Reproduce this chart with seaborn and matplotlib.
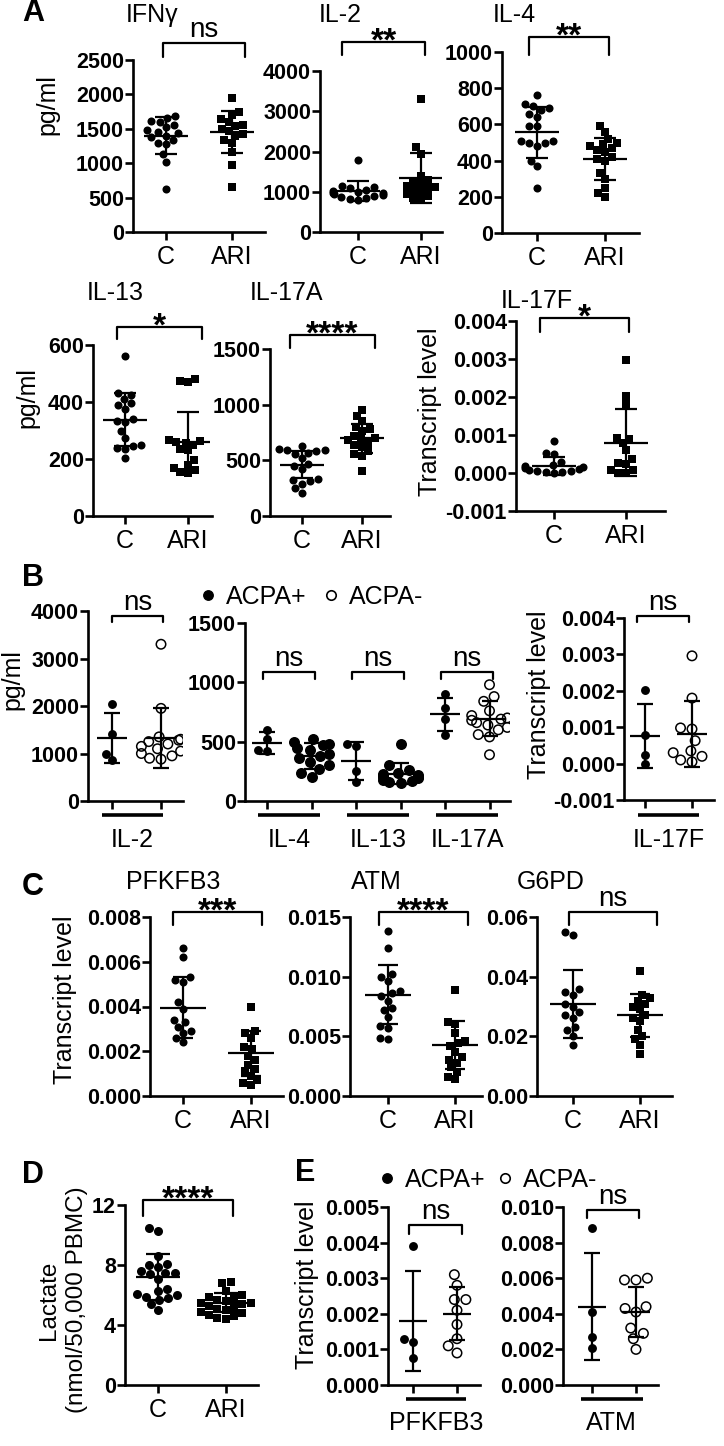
import matplotlib.pyplot as plt
import matplotlib.ticker as mticker
from matplotlib.lines import Line2D
from matplotlib.transforms import blended_transform_factory
import seaborn as sns

# ---------------- values ----------------
# A: cytokines, controls (C) vs ARI, mean +/- SD
groups = ["C", "ARI"]
ifng_c = [1690, 1650, 1610, 1600, 1560, 1520, 1480, 1450, 1440, 1400, 1380, 1340, 1300, 1280, 1130, 1020, 620]
ifng_ari = [1950, 1740, 1700, 1640, 1600, 1560, 1540, 1500, 1470, 1420, 1400, 1330, 1300, 1170, 980, 650]
ifng_mean, ifng_sd = [1400, 1447], [265, 305]

il2_c = [1800, 1150, 1120, 1100, 1050, 1020, 1000, 980, 960, 950, 920, 900, 880, 850, 830, 800]
il2_ari = [3300, 2100, 1950, 1400, 1300, 1250, 1200, 1150, 1120, 1100, 1050, 1000, 950, 900, 850, 800]
il2_mean, il2_sd = [1015, 1340], [240, 620]

il4_c = [760, 710, 700, 690, 680, 660, 640, 590, 590, 510, 510, 500, 500, 480, 400, 370, 250]
il4_ari = [590, 560, 520, 500, 490, 480, 470, 460, 450, 420, 410, 400, 330, 300, 250, 220, 200]
il4_mean, il4_sd = [556, 410], [140, 115]

il13_c = [560, 430, 425, 410, 395, 390, 375, 340, 335, 330, 300, 275, 250, 245, 240, 235, 205]
il13_ari = [480, 475, 470, 265, 262, 258, 255, 250, 235, 230, 195, 180, 170, 160, 155, 150]
il13_mean, il13_sd = [338, 260], [92, 105]

il17a_c = [630, 600, 590, 590, 580, 570, 560, 520, 470, 450, 420, 330, 320, 310, 290, 250, 210]
il17a_ari = [950, 900, 850, 800, 780, 760, 720, 700, 690, 680, 660, 640, 620, 580, 560, 540, 400]
il17a_mean, il17a_sd = [460, 700], [120, 130]

il17f_c = [0.00083, 0.00052, 0.0005, 0.0003, 0.00022, 0.00018, 0.00015, 0.00012,
           0.0001, 0.00008, 0.00006, 0.00005, 0.00003, 0.00002, 0.00001]
il17f_ari = [0.00297, 0.00203, 0.00182, 0.00092, 0.0009, 0.00079, 0.00061, 0.00037,
             0.00027, 0.00025, 0.00009, 0.00008, 0.00001, 0.0]
il17f_mean, il17f_sd = [0.00018, 0.0008], [0.00024, 0.00088]

# B: ARI patients split by ACPA status
b_il2_pos = [2050, 1420, 1000, 860]
b_il2_neg = [3300, 1950, 1350, 1300, 1280, 1250, 1200, 1150, 1100, 1050, 1000, 950, 900, 880]
b_il2_mean, b_il2_sd = [1330, 1330], [530, 630]
b_il4_pos = [600, 520, 430, 420]
b_il4_neg = [520, 500, 480, 470, 450, 430, 400, 380, 360, 330, 300, 270, 240, 200]
b_il13_pos = [480, 460, 250, 160]
b_il13_neg = [480, 300, 260, 240, 230, 220, 210, 200, 200, 190, 180, 170, 160, 150]
b_il17a_pos = [900, 780, 690, 560]
b_il17a_neg = [980, 880, 840, 760, 720, 700, 690, 680, 660, 640, 620, 600, 560, 540, 390]
b_mid_mean = [490, 380, 340, 230, 732, 695]
b_mid_sd = [90, 110, 160, 90, 140, 150]
b_il17f_pos = [0.00203, 0.00078, 0.00025, 0.0]
b_il17f_neg = [0.00296, 0.0018, 0.00098, 0.00095, 0.00063, 0.00035, 0.0003, 0.0002, 0.0001, 0.00005]
b_il17f_mean, b_il17f_sd = [0.00077, 0.00082], [0.00088, 0.0009]

# C: transcripts
pfkfb3_c = [0.0066, 0.0062, 0.0053, 0.0052, 0.0051, 0.0042, 0.0039, 0.0034, 0.0033, 0.0031, 0.0029, 0.0028, 0.0026, 0.0024]
pfkfb3_ari = [0.0040, 0.0029, 0.0028, 0.0026, 0.0022, 0.0021, 0.0018, 0.0016, 0.0014, 0.0012, 0.0011, 0.0009, 0.0007, 0.0006, 0.0005]
pfkfb3_mean, pfkfb3_sd = [0.00395, 0.0019], [0.00135, 0.001]
atm_c = [0.0138, 0.0124, 0.0102, 0.0100, 0.0096, 0.0088, 0.0086, 0.0084, 0.0080, 0.0074, 0.0072, 0.0066, 0.0059, 0.0057, 0.0049, 0.0048]
atm_ari = [0.0089, 0.0062, 0.0060, 0.0053, 0.0046, 0.0044, 0.0042, 0.0037, 0.0033, 0.0030, 0.0028, 0.0024, 0.0020, 0.0016, 0.0014]
atm_mean, atm_sd = [0.0085, 0.0043], [0.0025, 0.002]
g6pd_c = [0.055, 0.054, 0.036, 0.035, 0.034, 0.031, 0.030, 0.028, 0.027, 0.026, 0.023, 0.022, 0.020, 0.017]
g6pd_ari = [0.042, 0.034, 0.033, 0.032, 0.031, 0.030, 0.029, 0.027, 0.026, 0.025, 0.022, 0.020, 0.019, 0.017, 0.014]
g6pd_mean, g6pd_sd = [0.0308, 0.027], [0.0115, 0.0072]

# D: lactate
lact_c = [10.5, 10.3, 8.6, 8.1, 8.0, 7.9, 7.6, 7.5, 7.5, 7.4, 7.1, 6.4, 6.3, 6.1, 6.0, 5.9, 5.8, 5.7, 5.4, 5.0]
lact_ari = [6.9, 6.8, 6.3, 6.0, 5.9, 5.8, 5.7, 5.6, 5.5, 5.5, 5.4, 5.3, 5.2, 5.1, 5.0, 4.9, 4.8, 4.7, 4.6, 4.5, 4.4]
lact_mean, lact_sd = [7.2, 5.5], [1.55, 0.65]

# E: transcripts by ACPA status
e_pfkfb3_pos = [0.0039, 0.0013, 0.0012, 0.00075]
e_pfkfb3_neg = [0.0031, 0.0028, 0.0024, 0.0024, 0.0021, 0.0017, 0.0013, 0.0011, 0.0009]
e_pfkfb3_mean, e_pfkfb3_sd = [0.0018, 0.002], [0.0014, 0.00074]
e_atm_pos = [0.0088, 0.0041, 0.0027, 0.0021]
e_atm_neg = [0.0060, 0.0059, 0.0059, 0.0044, 0.0043, 0.0041, 0.0032, 0.0029, 0.0026, 0.0020]
e_atm_mean, e_atm_sd = [0.0044, 0.0041], [0.003, 0.0014]

# ---------------- setup ----------------
W, H = 724, 1446
sns.set_theme(style="ticks")
plt.rcParams["font.family"] = ["Liberation Sans", "DejaVu Sans"]
plt.rcParams["axes.unicode_minus"] = False
plt.rcParams.update({"axes.edgecolor": "black", "xtick.color": "black", "ytick.color": "black",
                     "text.color": "black", "axes.labelcolor": "black"})

fig = plt.figure(figsize=(W / 100, H / 100), dpi=100)


def fy(py):
    return 1 - py / H


def add_panel(left, right, top, bottom, t0, t1, n=2):
    # axes placed in pixel coords; t0/t1 = pixel x of first/last category
    ax = fig.add_axes([left / W, 1 - bottom / H, (right - left) / W, (bottom - top) / H])
    step = (t1 - t0) / (n - 1)
    return ax, step, ((left - t0) / step, (right - t0) / step)


def plot_groups(ax, step, order, values, means, sds, styles, half_mean=22, half_cap=11):
    for pos, (cat, vals, m, s, (mk, filled, size)) in enumerate(zip(order, values, means, sds, styles)):
        sns.swarmplot(x=[cat] * len(vals), y=vals, order=order, ax=ax, color="black",
                      marker=mk, size=size, linewidth=0 if filled else 1.1,
                      edgecolor="black", legend=False, zorder=3, warn_thresh=1)
        if not filled:
            ax.collections[-1].set_facecolor("none")
        ax.errorbar([pos], [m], yerr=[s], fmt="none", ecolor="black", elinewidth=1.6,
                    capsize=half_cap * 0.72, capthick=1.6, zorder=4)
        ax.hlines(m, pos - half_mean / step, pos + half_mean / step, color="black", lw=1.6, zorder=4)


def style(ax, xlim, yticks, fmt, xlabels):
    ax.set_xlim(*xlim)
    ax.set_ylim(yticks[0], yticks[-1])
    ax.set_yticks(yticks, labels=[fmt % v for v in yticks])
    ax.set_xticks(range(len(xlabels)), labels=xlabels, fontsize=18)
    plt.setp(ax.get_yticklabels(), fontweight="bold", fontsize=15.5)
    ax.set_xlabel("")
    ax.set_ylabel("")
    sns.despine(ax=ax)
    for side in ["left", "bottom"]:
        ax.spines[side].set_linewidth(1.9)
    ax.tick_params(width=1.9, length=5.5)
    ax.tick_params(axis="y", pad=1)
    ax.tick_params(axis="x", pad=4)


def bracket(ax, x0, x1, top, leg, label):
    tr = blended_transform_factory(ax.transData, fig.transFigure)
    ax.plot([x0, x0, x1, x1], [fy(leg), fy(top), fy(top), fy(leg)], color="black", lw=1.6,
            transform=tr, clip_on=False)
    if label == "ns":
        ax.text((x0 + x1) / 2, fy(top - 6), label, transform=tr, ha="center", va="baseline", fontsize=20)
    else:
        ax.text((x0 + x1) / 2, fy(top + 9), label, transform=tr, ha="center", va="baseline",
                fontsize=24, fontweight="bold")


def underbar(ax, x0, x1, ybar, ylab, label):
    tr = blended_transform_factory(ax.transData, fig.transFigure)
    ax.plot([x0, x1], [fy(ybar)] * 2, color="black", lw=2.6, transform=tr, clip_on=False,
            solid_capstyle="butt")
    ax.text((x0 + x1) / 2, fy(ylab), label, transform=tr, ha="center", va="center", fontsize=18)


def ftext(x, y, s, size=18, rot=0, weight="normal", ha="center"):
    fig.text(x / W, fy(y), s, fontsize=size, rotation=rot, fontweight=weight, ha=ha, va="center",
             linespacing=1.3, multialignment="center")


dot = ("o", True, 5.8)
sq = ("s", True, 5.4)
pos_st = ("o", True, 6.4)
neg_st = ("o", False, 6.8)

# ---------------- panel A ----------------
ax, st, xl = add_panel(133, 265, 60, 232, 166, 232)
plot_groups(ax, st, groups, [ifng_c, ifng_ari], ifng_mean, ifng_sd, [dot, sq])
style(ax, xl, [0, 500, 1000, 1500, 2000, 2500], "%d", groups)
bracket(ax, -0.05, 1.2, 43, 57, "ns")

ax, st, xl = add_panel(320, 442, 71, 232, 358, 421)
plot_groups(ax, st, groups, [il2_c, il2_ari], il2_mean, il2_sd, [dot, sq])
style(ax, xl, [0, 1000, 2000, 3000, 4000], "%d", groups)
bracket(ax, -0.25, 1.06, 42, 55, "**")

ax, st, xl = add_panel(502, 639, 52, 233, 537, 605)
plot_groups(ax, st, groups, [il4_c, il4_ari], il4_mean, il4_sd, [dot, sq])
style(ax, xl, [0, 200, 400, 600, 800, 1000], "%d", groups)
bracket(ax, -0.12, 1.06, 37, 55, "**")

ax, st, xl = add_panel(93, 212, 345, 516, 125, 188)
plot_groups(ax, st, groups, [il13_c, il13_ari], il13_mean, il13_sd, [dot, sq])
style(ax, xl, [0, 200, 400, 600], "%d", groups)
bracket(ax, -0.13, 1.22, 327, 339, "*")

ax, st, xl = add_panel(270, 390, 349, 516, 302, 362)
plot_groups(ax, st, groups, [il17a_c, il17a_ari], il17a_mean, il17a_sd, [dot, sq])
style(ax, xl, [0, 500, 1000, 1500], "%d", groups)
bracket(ax, -0.2, 1.22, 335, 348, "****")

ax, st, xl = add_panel(516, 665, 321, 511, 554, 626)
plot_groups(ax, st, groups, [il17f_c, il17f_ari], il17f_mean, il17f_sd, [dot, sq])
style(ax, xl, [-0.001, 0.0, 0.001, 0.002, 0.003, 0.004], "%.3f", groups)
bracket(ax, -0.19, 1.04, 318, 332, "*")

ftext(33, 13, "A", size=22, weight="bold")
ftext(152, 15, "IFNγ")
ftext(340, 15, "IL-2")
ftext(514, 15, "IL-4")
ftext(115, 293, "IL-13")
ftext(286, 293, "IL-17A")
ftext(537, 301, "IL-17F")
ftext(47, 105, "pg/ml", rot=90)
ftext(27, 398, "pg/ml", rot=90)
ftext(430, 412, "Transcript level", rot=90)

# ---------------- panel B ----------------
acpa = ["ACPA+", "ACPA-"]
ax, st, xl = add_panel(88, 183, 611, 801, 112, 161)
plot_groups(ax, st, acpa, [b_il2_pos, b_il2_neg], b_il2_mean, b_il2_sd, [pos_st, neg_st], 15, 8)
style(ax, xl, [0, 1000, 2000, 3000, 4000], "%d", ["", ""])
bracket(ax, 0.0, 1.04, 616, 622, "ns")
underbar(ax, -0.2, 1.04, 815, 840, "IL-2")

mid_order = ["IL-4+", "IL-4-", "IL-13+", "IL-13-", "IL-17A+", "IL-17A-"]
ax, st, xl = add_panel(245, 510, 623, 801, 267, 489.5, n=6)
plot_groups(ax, st, mid_order,
            [b_il4_pos, b_il4_neg, b_il13_pos, b_il13_neg, b_il17a_pos, b_il17a_neg],
            b_mid_mean, b_mid_sd, [pos_st, neg_st] * 3, 15, 8)
style(ax, xl, [0, 500, 1000, 1500], "%d", [""] * 6)
for k, name in enumerate(["IL-4", "IL-13", "IL-17A"]):
    bracket(ax, 2 * k - 0.09, 2 * k + 1.08, 672, 679, "ns")
    underbar(ax, 2 * k - 0.2, 2 * k + 1.2, 815, 840, name)

ax, st, xl = add_panel(624, 714, 618, 800, 645, 692)
plot_groups(ax, st, acpa, [b_il17f_pos, b_il17f_neg], b_il17f_mean, b_il17f_sd, [pos_st, neg_st], 15, 8)
style(ax, xl, [-0.001, 0.0, 0.001, 0.002, 0.003, 0.004], "%.3f", ["", ""])
bracket(ax, -0.17, 0.94, 616, 622, "ns")
underbar(ax, -0.15, 1.15, 815, 840, "IL-17F")

h_pos = Line2D([], [], marker="o", ls="none", color="black", markersize=6.8)
h_neg = Line2D([], [], marker="o", ls="none", markerfacecolor="none", markeredgecolor="black",
               markeredgewidth=1.2, markersize=6.8)
fig.legend([h_pos, h_neg], acpa, ncol=2, loc="center left", bbox_to_anchor=(198 / W, fy(597)),
           frameon=False, fontsize=18, handlelength=0.8, handletextpad=0.3, columnspacing=0.6,
           borderpad=0, borderaxespad=0)

ftext(33, 578, "B", size=22, weight="bold")
ftext(12, 680, "pg/ml", rot=90)
ftext(539, 695, "Transcript level", rot=90)

# ---------------- panel C ----------------
ax, st, xl = add_panel(150, 283, 917, 1096, 183, 251)
plot_groups(ax, st, groups, [pfkfb3_c, pfkfb3_ari], pfkfb3_mean, pfkfb3_sd, [dot, sq], 23, 10)
style(ax, xl, [0.0, 0.002, 0.004, 0.006, 0.008], "%.3f", groups)
bracket(ax, -0.15, 1.16, 912, 925, "***")

ax, st, xl = add_panel(350, 482, 917, 1096, 388, 455)
plot_groups(ax, st, groups, [atm_c, atm_ari], atm_mean, atm_sd, [dot, sq], 23, 10)
style(ax, xl, [0.0, 0.005, 0.010, 0.015], "%.3f", groups)
bracket(ax, -0.13, 1.19, 912, 925, "****")

ax, st, xl = add_panel(537, 672, 917, 1096, 573, 640)
plot_groups(ax, st, groups, [g6pd_c, g6pd_ari], g6pd_mean, g6pd_sd, [dot, sq], 23, 10)
style(ax, xl, [0.0, 0.02, 0.04, 0.06], "%.2f", groups)
bracket(ax, -0.06, 1.25, 912, 925, "ns")

ftext(33, 887, "C", size=22, weight="bold")
ftext(173, 882, "PFKFB3")
ftext(376, 882, "ATM")
ftext(551, 882, "G6PD")
ftext(65, 1000, "Transcript level", rot=90)

# ---------------- panel D ----------------
big_dot = ("o", True, 6.5)
big_sq = ("s", True, 6.0)
ax, st, xl = add_panel(125, 258, 1205, 1385, 158, 226)
plot_groups(ax, st, groups, [lact_c, lact_ari], lact_mean, lact_sd, [big_dot, big_sq], 22, 12)
style(ax, xl, [0, 4, 8, 12], "%d", groups)
bracket(ax, -0.22, 1.1, 1200, 1216, "****")

ftext(33, 1175, "D", size=22, weight="bold")
ftext(63, 1300, "Lactate\n(nmol/50,000 PBMC)", size=17.5, rot=90)

# ---------------- panel E ----------------
ax, st, xl = add_panel(388, 480, 1207, 1385, 413, 457)
plot_groups(ax, st, acpa, [e_pfkfb3_pos, e_pfkfb3_neg], e_pfkfb3_mean, e_pfkfb3_sd, [pos_st, neg_st], 14, 8)
style(ax, xl, [0.0, 0.001, 0.002, 0.003, 0.004, 0.005], "%.3f", ["", ""])
bracket(ax, -0.09, 1.11, 1225, 1234, "ns")
underbar(ax, -0.16, 1.2, 1399, 1423, "PFKFB3")

ax, st, xl = add_panel(563, 658, 1207, 1385, 592, 636)
plot_groups(ax, st, acpa, [e_atm_pos, e_atm_neg], e_atm_mean, e_atm_sd, [pos_st, neg_st], 14, 8)
style(ax, xl, [0.0, 0.002, 0.004, 0.006, 0.008, 0.010], "%.3f", ["", ""])
bracket(ax, -0.11, 1.07, 1210, 1218, "ns")
underbar(ax, -0.25, 1.15, 1399, 1423, "ATM")

fig.legend([h_pos, h_neg], acpa, ncol=2, loc="center left", bbox_to_anchor=(377 / W, fy(1180)),
           frameon=False, fontsize=18, handlelength=0.8, handletextpad=0.3, columnspacing=0.4,
           borderpad=0, borderaxespad=0)

ftext(305, 1173, "E", size=22, weight="bold")
ftext(307, 1285, "Transcript level", rot=90)

fig.savefig("out.png", dpi=100, facecolor="white")
